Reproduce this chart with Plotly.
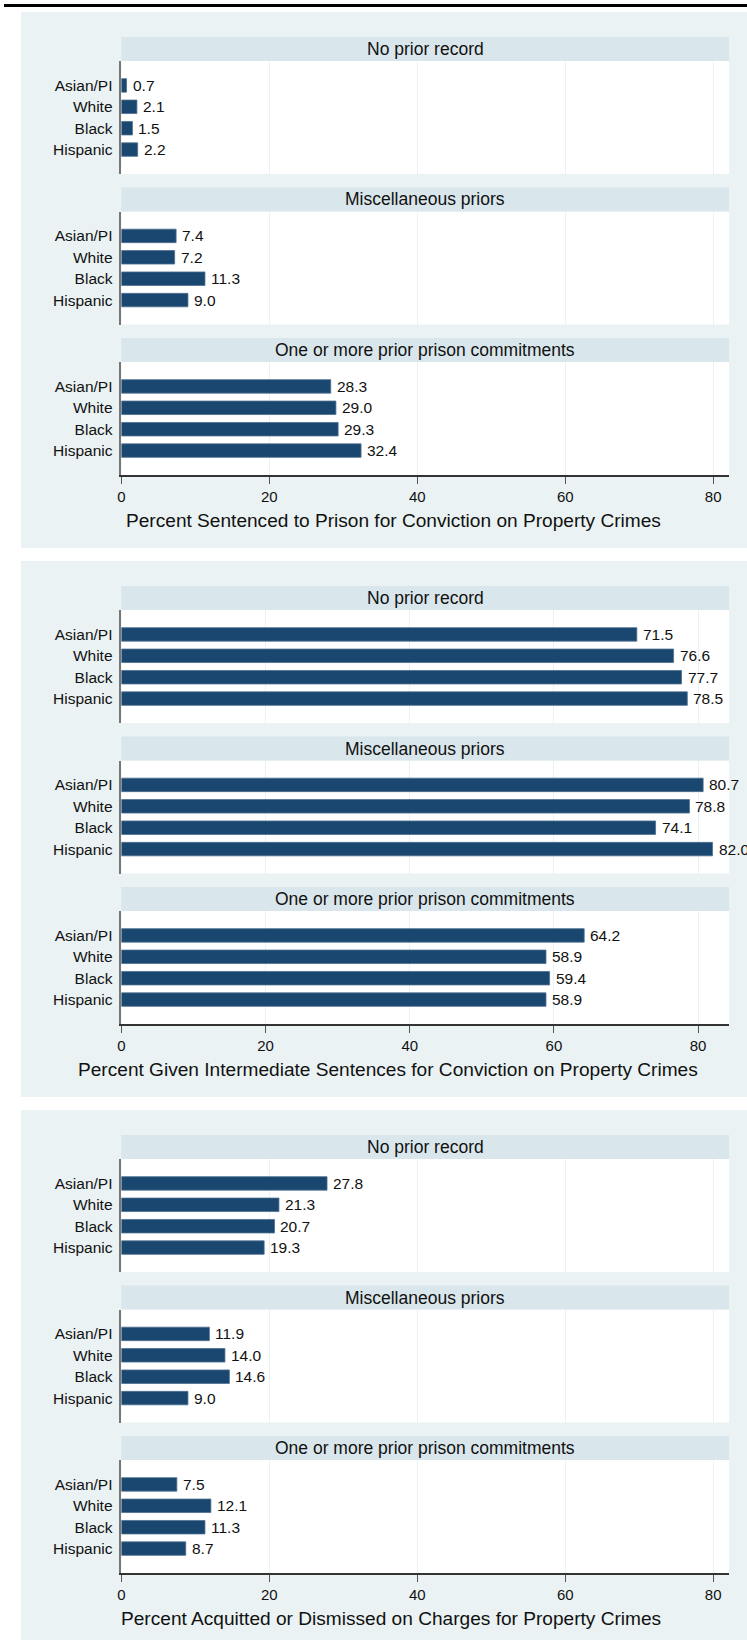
import plotly.graph_objects as go

# ---------------- data ----------------
groups = ["Asian/PI", "White", "Black", "Hispanic"]
facets = ["No prior record", "Miscellaneous priors", "One or more prior prison commitments"]
panel_titles = [
    "Percent Sentenced to Prison for Conviction on Property Crimes",
    "Percent Given Intermediate Sentences for Conviction on Property Crimes",
    "Percent Acquitted or Dismissed on Charges for Property Crimes",
]

prison_no_prior = [0.7, 2.1, 1.5, 2.2]
prison_misc = [7.4, 7.2, 11.3, 9.0]
prison_commit = [28.3, 29.0, 29.3, 32.4]

intermediate_no_prior = [71.5, 76.6, 77.7, 78.5]
intermediate_misc = [80.7, 78.8, 74.1, 82.0]
intermediate_commit = [64.2, 58.9, 59.4, 58.9]

acquitted_no_prior = [27.8, 21.3, 20.7, 19.3]
acquitted_misc = [11.9, 14.0, 14.6, 9.0]
acquitted_commit = [7.5, 12.1, 11.3, 8.7]

x_tick_vals = [0, 20, 40, 60, 80]
x_tick_text = ["0", "20", "40", "60", "80"]
x_max = [82.15, 84.3, 82.15]

panels = [
    [prison_no_prior, prison_misc, prison_commit],
    [intermediate_no_prior, intermediate_misc, intermediate_commit],
    [acquitted_no_prior, acquitted_misc, acquitted_commit],
]

# ---------------- style / layout ----------------
W, H = 747, 1640
PLOT_L, PLOT_R = 118, 729
PANEL_L = 17
PANEL_STEP = 549
FACET_STEP = 150.5
STRIP_H = 24
PLOT_H = 113
TITLE_X = [392, 386, 389]

BAR = "#1a476f"
BAR_EDGE = "#4d6f90"
PANEL_BG = "#eaf2f3"
STRIP_BG = "#d9e6eb"
GRID = "#eaf2f3"
FONT = "Liberation Sans, Arial, sans-serif"


def fy(px):
    return 1 - px / H


def fx(px):
    return px / W


fig = go.Figure()
shapes = []
annotations = []

# top rule
shapes.append(dict(type="rect", xref="paper", yref="paper", x0=0, x1=1,
                   y0=fy(7), y1=fy(4), fillcolor="black", line=dict(width=0),
                   layer="below"))

for j in range(3):
    p = PANEL_STEP * j
    shapes.append(dict(type="rect", xref="paper", yref="paper",
                       x0=fx(PANEL_L), x1=1, y0=max(0, fy(548 + p)), y1=fy(12 + p),
                       fillcolor=PANEL_BG, line=dict(width=0), layer="below"))

for j in range(3):
    p = PANEL_STEP * j
    for k in range(3):
        idx = j * 3 + k + 1
        s_top = 37 + FACET_STEP * k + p
        s_bot = s_top + STRIP_H
        p_bot = s_bot + PLOT_H
        vals = panels[j][k]
        # white plot area
        shapes.append(dict(type="rect", xref="paper", yref="paper",
                           x0=fx(PLOT_L), x1=fx(PLOT_R), y0=fy(p_bot), y1=fy(s_bot),
                           fillcolor="white", line=dict(width=0), layer="below"))
        # strip
        shapes.append(dict(type="rect", xref="paper", yref="paper",
                           x0=fx(PLOT_L), x1=fx(PLOT_R), y0=fy(s_bot), y1=fy(s_top),
                           fillcolor=STRIP_BG, line=dict(width=0), layer="below"))
        annotations.append(dict(xref="paper", yref="paper",
                                x=fx((PLOT_L + PLOT_R) / 2), y=fy((s_top + s_bot) / 2),
                                text=facets[k], showarrow=False,
                                xanchor="center", yanchor="middle",
                                font=dict(family=FONT, size=17.5, color="#111111")))
        xa = "x" if idx == 1 else f"x{idx}"
        ya = "y" if idx == 1 else f"y{idx}"
        fig.add_trace(go.Bar(
            x=vals, y=groups, orientation="h", xaxis=xa, yaxis=ya,
            width=0.63, marker=dict(color=BAR, line=dict(color=BAR_EDGE, width=0.8)),
            showlegend=False, hoverinfo="x+y",
        ))
        for g, v in zip(groups, vals):
            annotations.append(dict(xref=xa, yref=ya, x=v, y=g, text=f"{v:.1f}",
                                    showarrow=False, xanchor="left", yanchor="middle",
                                    xshift=4,
                                    font=dict(family=FONT, size=15.5, color="#111111")))
        bottom = (k == 2)
        fig.layout[f"xaxis{'' if idx == 1 else idx}"] = dict(
            domain=[fx(PLOT_L), fx(PLOT_R)], anchor=ya,
            range=[0, x_max[j]], tickvals=x_tick_vals, ticktext=x_tick_text,
            showgrid=True, gridcolor=GRID, gridwidth=1, zeroline=False,
            showline=bottom, linecolor="#333333", linewidth=1.5,
            ticks="outside" if bottom else "", ticklen=7, tickwidth=1.2,
            tickcolor="#555555", showticklabels=bottom,
            tickfont=dict(family=FONT, size=15, color="#111111"),
            fixedrange=True,
        )
        fig.layout[f"yaxis{'' if idx == 1 else idx}"] = dict(
            domain=[fy(p_bot), fy(s_bot)], anchor=xa,
            type="category", categoryorder="array", categoryarray=groups,
            range=[3 + 1.14, -1.14], showgrid=False, zeroline=False,
            showline=True, linecolor="#777777", linewidth=1.5,
            ticks="", ticklabelstandoff=4,
            tickfont=dict(family=FONT, size=15.5, color="#111111"),
            fixedrange=True,
        )
    # panel x-axis title
    annotations.append(dict(xref="paper", yref="paper", x=fx(TITLE_X[j]), y=fy(520 + p),
                            text=panel_titles[j], showarrow=False,
                            xanchor="center", yanchor="middle",
                            font=dict(family=FONT, size=19.1, color="#111111")))

fig.update_layout(
    width=W, height=H, margin=dict(l=0, r=0, t=0, b=0),
    paper_bgcolor="white", plot_bgcolor="rgba(0,0,0,0)",
    shapes=shapes, annotations=annotations, bargap=0.37,
    font=dict(family=FONT, color="#111111"),
)

fig.write_html("out.html", config={"displayModeBar": False},
               post_script="document.body.style.margin='0';document.body.style.overflow='hidden';")
